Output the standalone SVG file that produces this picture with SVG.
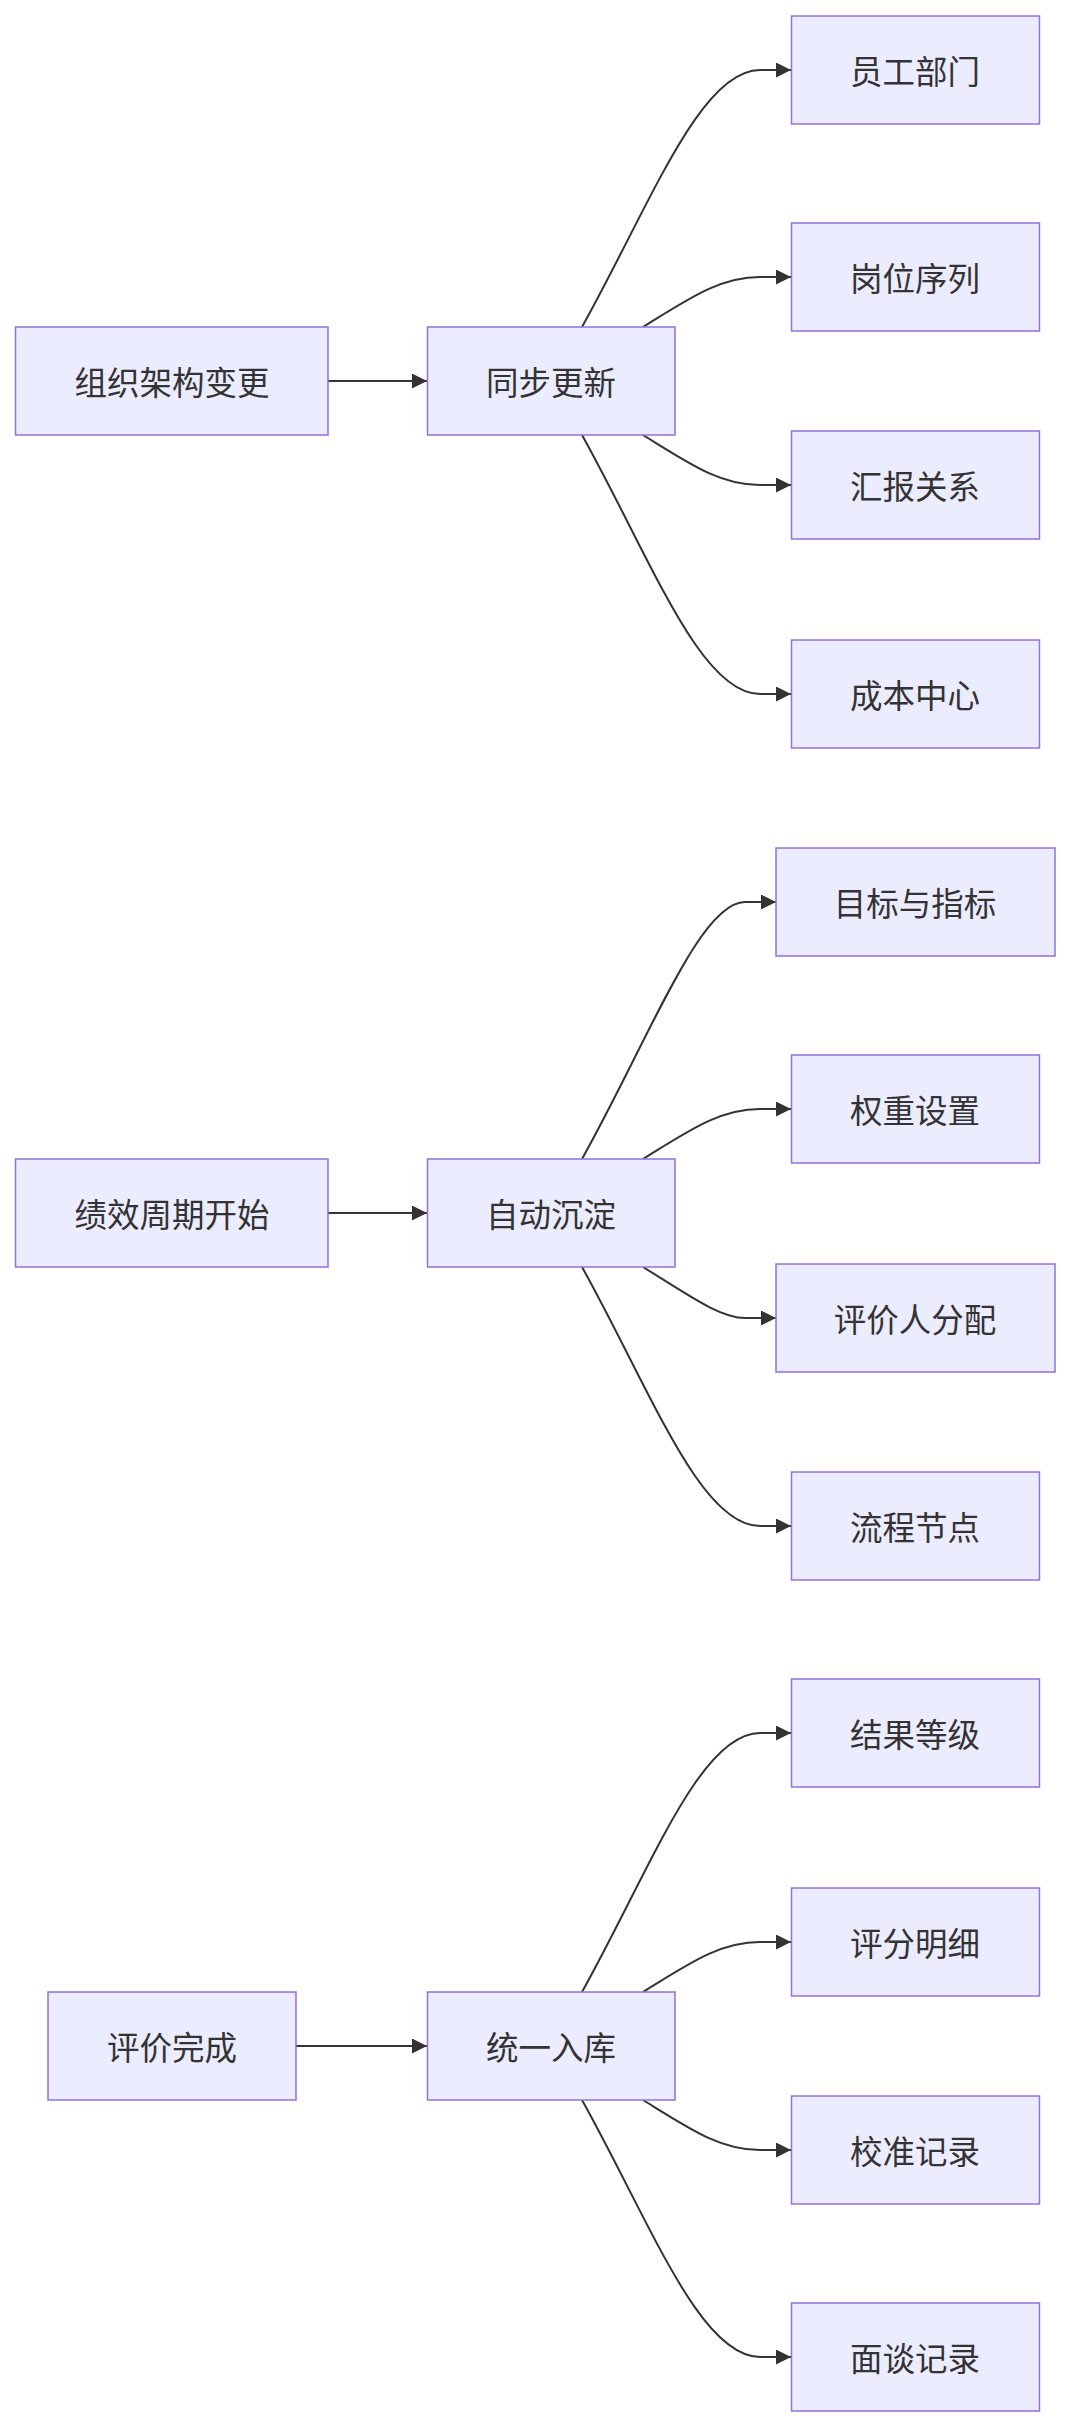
<svg xmlns="http://www.w3.org/2000/svg" width="1072" height="2428" viewBox="0 0 1072 2428">
<style>
.n rect{fill:#ECECFF;stroke:#9370DB;stroke-width:1.5}
.n text{font-family:"Noto Sans CJK SC","Liberation Sans",sans-serif;font-size:32.5px;fill:#333;text-anchor:middle;dominant-baseline:central}
.e path{fill:none;stroke:#333;stroke-width:2;marker-end:url(#a)}
</style>
<defs><marker id="a" viewBox="0 0 10 10" refX="10" refY="5" markerWidth="15" markerHeight="15" markerUnits="userSpaceOnUse" orient="auto"><path d="M0,0L10,5L0,10z" fill="#333"/></marker></defs>
<rect width="1072" height="2428" fill="#fff"/>
<g class="e">
<path d="M328,381H427"/>
<path d="M582,327C650,205 700,70 760,70H791"/>
<path d="M643,327C690,298 720,277 760,277H791"/>
<path d="M643,435C690,464 720,485 760,485H791"/>
<path d="M582,435C650,557 700,694 760,694H791"/>
<path d="M328,1213H427"/>
<path d="M582,1159C650,1037 700,902 745,902H776"/>
<path d="M643,1159C690,1130 720,1109 760,1109H791"/>
<path d="M643,1267C690,1296 720,1318 745,1318H776"/>
<path d="M582,1267C650,1389 700,1526 760,1526H791"/>
<path d="M296,2046H427"/>
<path d="M582,1992C650,1870 700,1733 760,1733H791"/>
<path d="M643,1992C690,1963 720,1942 760,1942H791"/>
<path d="M643,2100C690,2129 720,2150 760,2150H791"/>
<path d="M582,2100C650,2222 700,2357 760,2357H791"/>
</g>
<g id="n1" class="n"><rect x="15.5" y="327" width="312.5" height="108"/><text x="172" y="380">组织架构变更</text></g>
<g id="n2" class="n"><rect x="427.5" y="327" width="247.5" height="108"/><text x="551" y="380">同步更新</text></g>
<g id="n3" class="n"><rect x="791.5" y="16" width="248" height="108"/><text x="915" y="69">员工部门</text></g>
<g id="n4" class="n"><rect x="791.5" y="223" width="248" height="108"/><text x="915" y="276">岗位序列</text></g>
<g id="n5" class="n"><rect x="791.5" y="431" width="248" height="108"/><text x="915" y="484">汇报关系</text></g>
<g id="n6" class="n"><rect x="791.5" y="640" width="248" height="108"/><text x="915" y="693">成本中心</text></g>
<g id="n7" class="n"><rect x="15.5" y="1159" width="312.5" height="108"/><text x="172" y="1212">绩效周期开始</text></g>
<g id="n8" class="n"><rect x="427.5" y="1159" width="247.5" height="108"/><text x="551" y="1212">自动沉淀</text></g>
<g id="n9" class="n"><rect x="776" y="848" width="279" height="108"/><text x="915" y="901">目标与指标</text></g>
<g id="n10" class="n"><rect x="791.5" y="1055" width="248" height="108"/><text x="915" y="1108">权重设置</text></g>
<g id="n11" class="n"><rect x="776" y="1264" width="279" height="108"/><text x="915" y="1317">评价人分配</text></g>
<g id="n12" class="n"><rect x="791.5" y="1472" width="248" height="108"/><text x="915" y="1525">流程节点</text></g>
<g id="n13" class="n"><rect x="48" y="1992" width="248" height="108"/><text x="172" y="2045">评价完成</text></g>
<g id="n14" class="n"><rect x="427.5" y="1992" width="247.5" height="108"/><text x="551" y="2045">统一入库</text></g>
<g id="n15" class="n"><rect x="791.5" y="1679" width="248" height="108"/><text x="915" y="1732">结果等级</text></g>
<g id="n16" class="n"><rect x="791.5" y="1888" width="248" height="108"/><text x="915" y="1941">评分明细</text></g>
<g id="n17" class="n"><rect x="791.5" y="2096" width="248" height="108"/><text x="915" y="2149">校准记录</text></g>
<g id="n18" class="n"><rect x="791.5" y="2303" width="248" height="108"/><text x="915" y="2356">面谈记录</text></g>
</svg>
